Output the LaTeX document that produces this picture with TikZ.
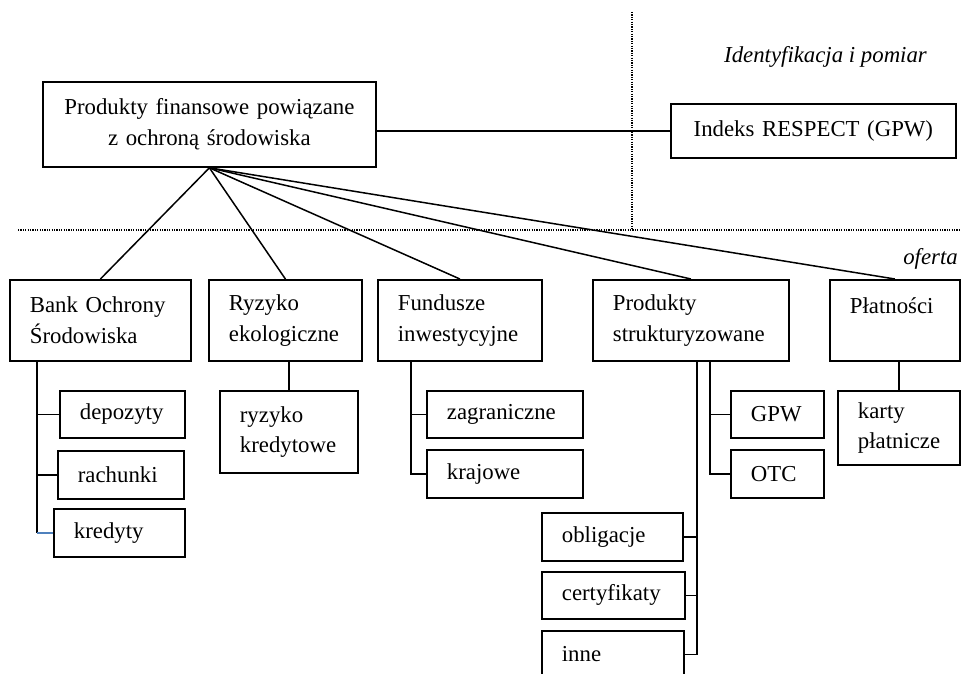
\documentclass[tikz,border=0pt]{standalone}
\usepackage{fontspec}
\setmainfont{Liberation Serif}
\definecolor{stubblue}{RGB}{79,129,189}
\tikzset{
  box/.style={draw, line width=1.8pt, anchor=north west, inner xsep=20pt, inner ysep=0pt,
    align=left, font=\fontsize{22.8}{30.5}\selectfont},
  link/.style={line width=1.5pt},
  sep/.style={line width=1.3pt, dash pattern=on 1.2pt off 1.2pt},
  lbl/.style={anchor=base east, inner sep=0pt, font=\fontsize{22.8}{30.5}\selectfont\itshape}
}
\begin{document}
\begin{tikzpicture}[x=1pt, y=-1pt]
            \clip (0,0) rectangle (961,674);

            % separators and area labels
            \draw[sep] (18,230) -- (961,230);
            \draw[sep] (632,12) -- (632,230);
            \node[lbl] (ident) at (927,63) {Identyfikacja i pomiar};
            \node[lbl] (oferta) at (958,264) {oferta};

            % top level
            \node[box, align=center, text width=293pt, minimum height=85pt] (main) at (42,81) {Produkty finansowe powiązane\\z ochroną środowiska};
            \node[box, align=center, text width=245pt, minimum height=54pt] (respect) at (670,103) {Indeks RESPECT (GPW)};

            % product groups
            \node[box, text width=141pt, minimum height=81pt] (bank) at (9,279) {Bank Ochrony\\Środowiska};
            \node[box, text width=113pt, minimum height=81pt] (ryzyko) at (208,279) {Ryzyko\\ekologiczne};
            \node[box, text width=124pt, minimum height=81pt] (fundusze) at (377,279) {Fundusze\\inwestycyjne};
            \node[box, text width=156pt, minimum height=81pt] (strukt) at (592,279) {Produkty\\strukturyzowane};
            \node[box, text width=90pt, minimum height=81pt] (platnosci) at (829,279) {Płatności\\\mbox{}};

            % sub products
            \node[box, text width=85pt, minimum height=47pt] (depozyty) at (59,390) {depozyty};
            \node[box, text width=86pt, minimum height=48pt] (rachunki) at (57,450) {rachunki};
            \node[box, text width=91pt, minimum height=48pt] (kredyty) at (53,508) {kredyty};
            \node[box, text width=98pt, minimum height=82pt] (ryzkred) at (219,390) {ryzyko\\kredytowe};
            \node[box, text width=116pt, minimum height=47pt] (zagr) at (426,390) {zagraniczne};
            \node[box, text width=116pt, minimum height=48pt] (kraj) at (426,449) {krajowe};
            \node[box, text width=53pt, minimum height=47pt] (gpw) at (730,390) {GPW};
            \node[box, text width=53pt, minimum height=48pt] (otc) at (730,449) {OTC};
            \node[box, text width=82pt, minimum height=74pt] (karty) at (837,390) {karty\\płatnicze};
            \node[box, text width=101pt, minimum height=48pt] (oblig) at (541,512) {obligacje};
            \node[box, text width=103pt, minimum height=47pt] (cert) at (541,571) {certyfikaty};
            \node[box, text width=102pt, minimum height=47pt] (inne) at (541,630) {inne};

            % links from the main box
            \draw[link] (main.east |- respect.west) -- (respect.west);
            \foreach \grp in {bank, ryzyko, fundusze, strukt, platnosci}
                \draw[link] (main.south) -- (\grp.north);

            % bank
            \coordinate (banktrunk) at ([xshift=28pt]bank.south west);
            \draw[link] (banktrunk) -- (banktrunk |- kredyty.west);
            \draw[link] (depozyty.west) -- (banktrunk |- depozyty.west);
            \draw[link] (rachunki.west) -- (banktrunk |- rachunki.west);
            \draw[link, stubblue] (kredyty.west) -- (banktrunk |- kredyty.west);

            % ryzyko, platnosci
            \draw[link] (ryzkred.north) -- (ryzkred.north |- ryzyko.south);
            \draw[link] (karty.north) -- (karty.north |- platnosci.south);

            % fundusze
            \coordinate (fundtrunk) at ([xshift=34pt]fundusze.south west);
            \draw[link] (fundtrunk) |- (kraj.west);
            \draw[link] (zagr.west) -- (fundtrunk |- zagr.west);

            % strukturyzowane
            \coordinate (longtrunk) at ([xshift=105pt]strukt.south west);
            \coordinate (shorttrunk) at ([xshift=118pt]strukt.south west);
            \draw[link] (longtrunk) |- (inne.east);
            \draw[link] (oblig.east) -- (longtrunk |- oblig.east);
            \draw[link] (cert.east) -- (longtrunk |- cert.east);
            \draw[link] (shorttrunk) |- (otc.west);
            \draw[link] (gpw.west) -- (shorttrunk |- gpw.west);
\end{tikzpicture}
\end{document}
